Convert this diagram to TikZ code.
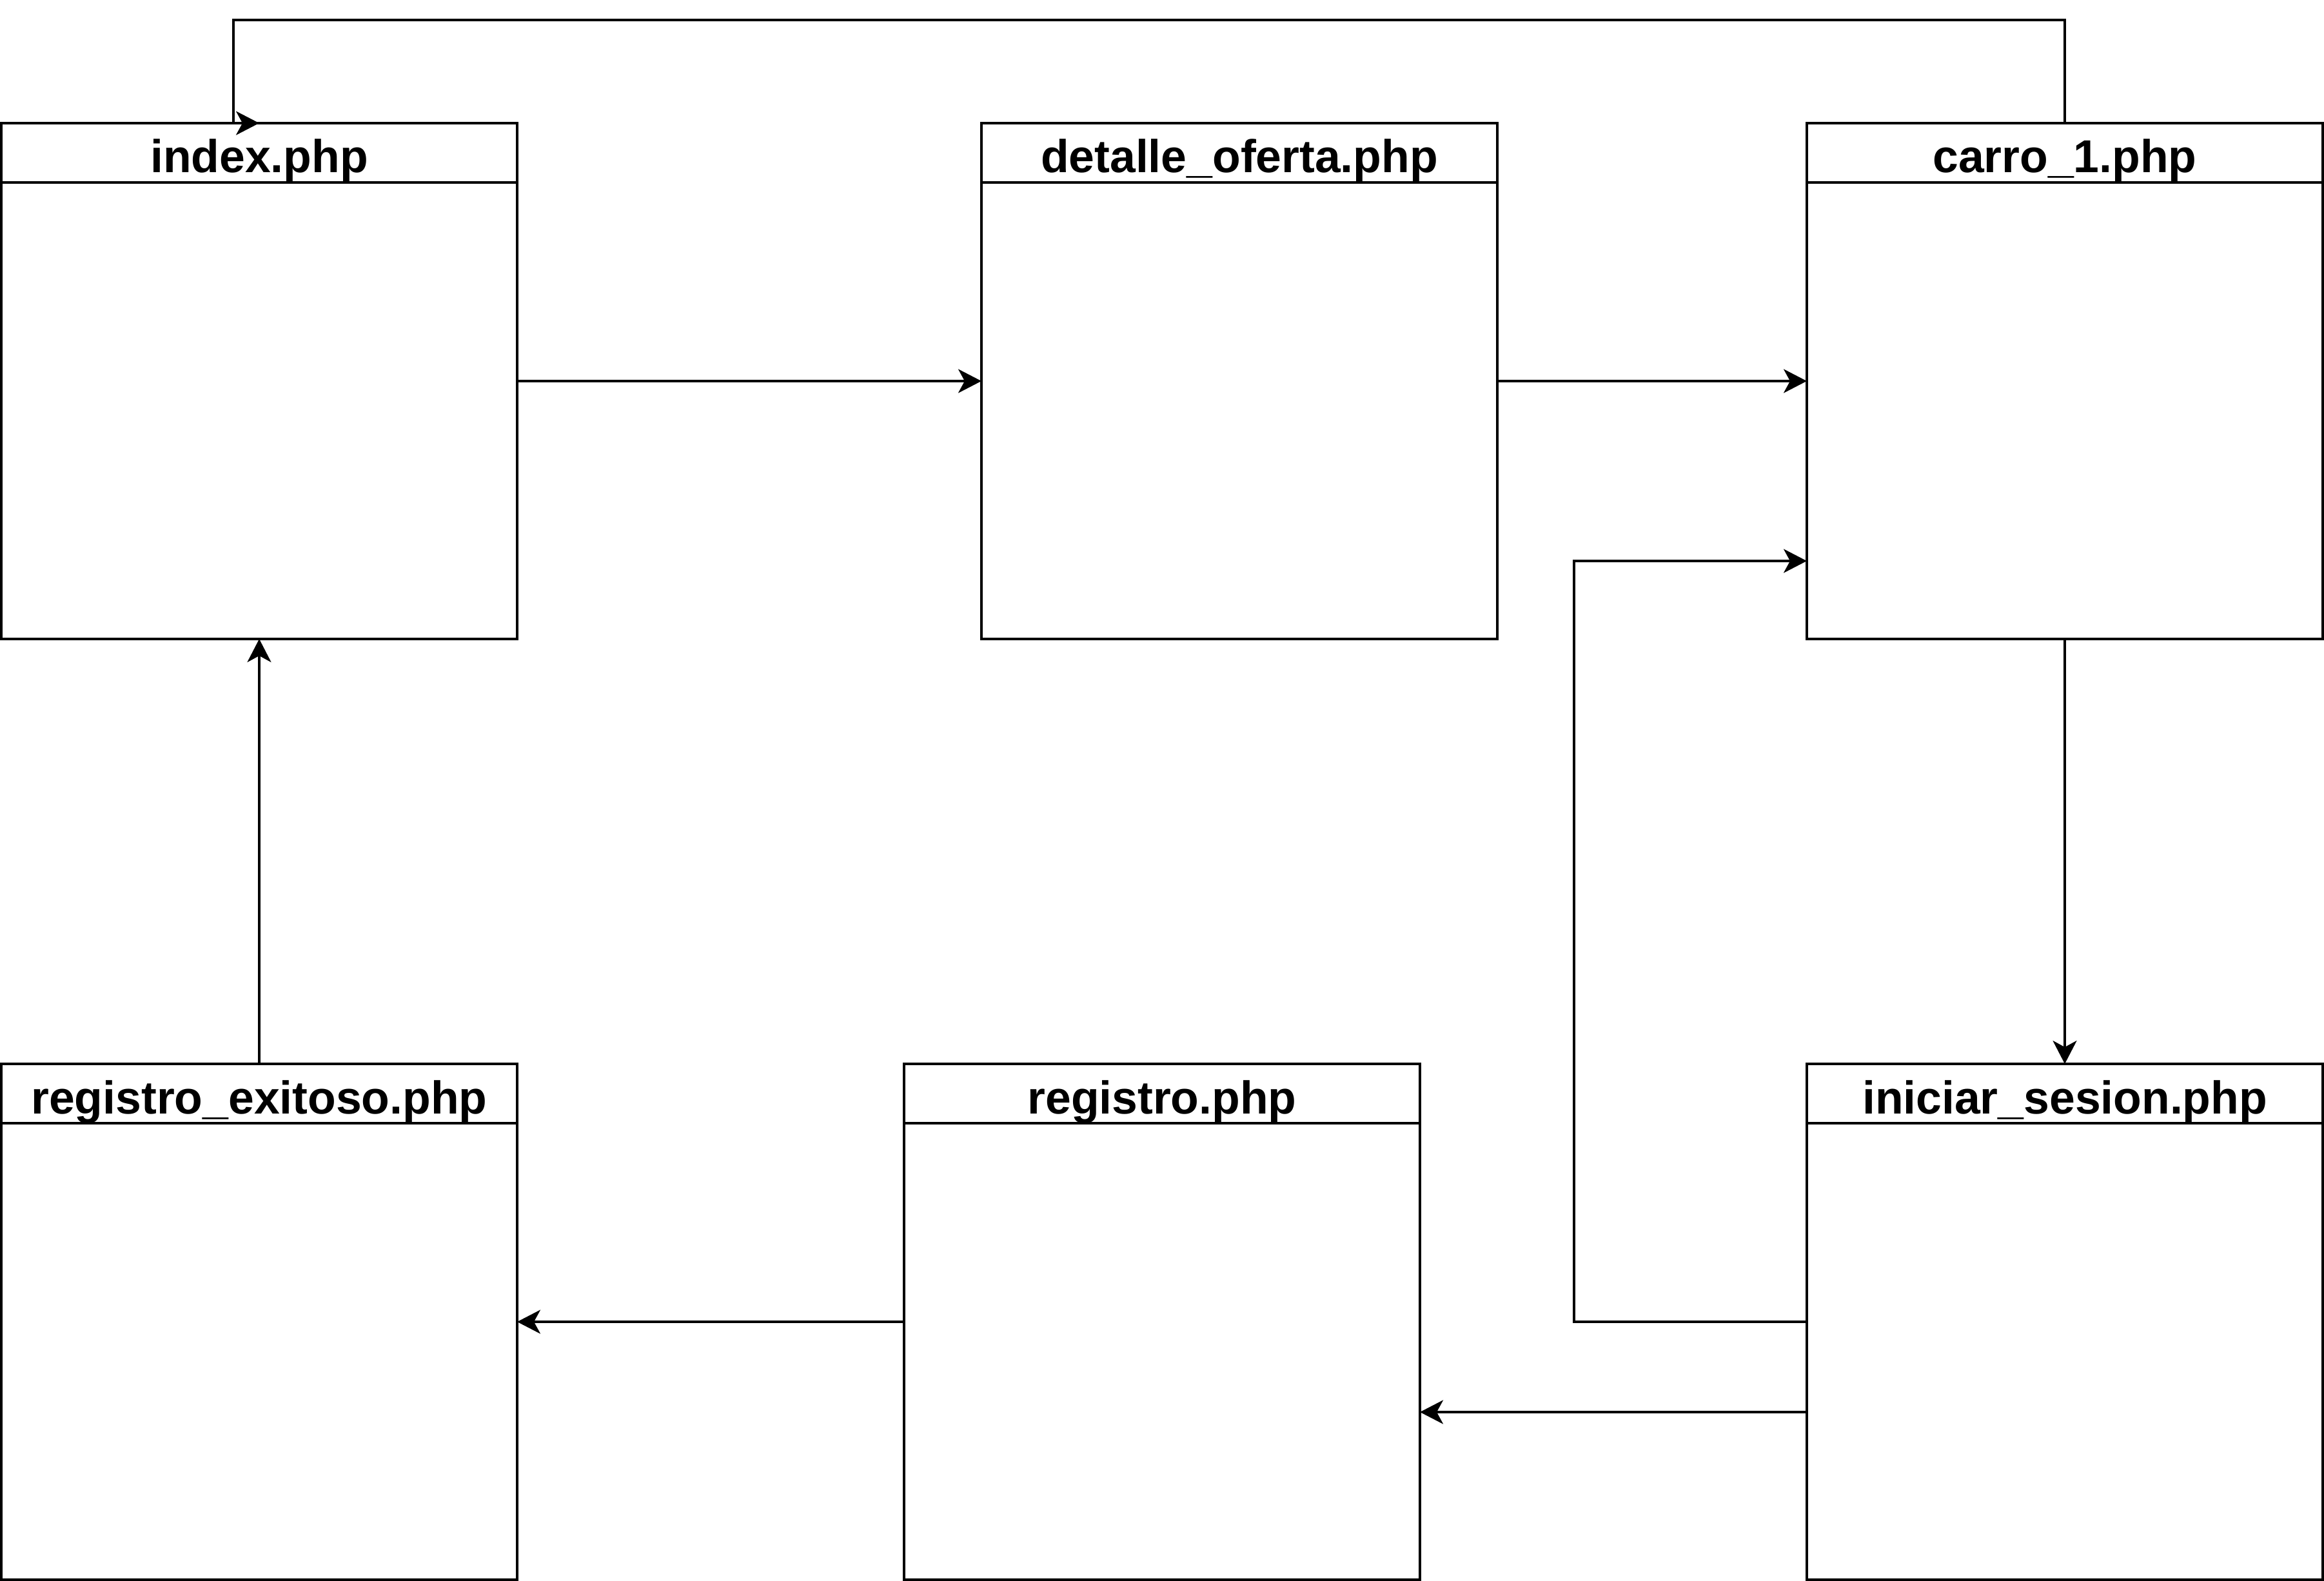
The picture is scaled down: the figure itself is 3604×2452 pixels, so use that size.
\documentclass[tikz,border=0pt]{standalone}
\usepackage{fontspec}
\setmainfont{Liberation Sans}
\usetikzlibrary{arrows.meta,calc}

\tikzset{
  pagebox/.style={draw, line width=0.7pt, fill=white, rectangle,
    minimum width=160pt, minimum height=160pt, inner sep=0pt, outer sep=0pt},
  pagetitle/.style={anchor=base, inner sep=0pt,
    font=\fontsize{14.3pt}{17pt}\selectfont\bfseries},
  headline/.style={line width=0.7pt},
  link/.style={line width=0.7pt,
    -{Stealth[length=7.2pt, width=7.4pt, inset=2pt]}},
}

\begin{document}
\begin{tikzpicture}[x=0.2pt, y=-0.2pt]
  \useasboundingbox (0,0) rectangle (3604,2452);

  % page boxes (centres, in pixels)
  \node[pagebox] (index)   at (402,591)  {};
  \node[pagebox] (detalle) at (1922,591) {};
  \node[pagebox] (carro)   at (3202,591) {};
  \node[pagebox] (exitoso) at (402,2050) {};
  \node[pagebox] (registro) at (1802,2050) {};
  \node[pagebox] (iniciar) at (3202,2050) {};

  % header separators and titles
  \foreach \b/\t in {index/index.php, detalle/detalle\_oferta.php,
                     carro/carro\_1.php, exitoso/registro\_exitoso.php,
                     registro/registro.php, iniciar/iniciar\_sesion.php} {
    \draw[headline] ($(\b.north west)+(0,92)$) -- ($(\b.north east)+(0,92)$);
    \node[pagetitle] (\b-title) at ($(\b.north)+(0,77)$) {\t};
  }

  % connectors
  \coordinate (loopTop) at (362,31);
  \draw[link] (carro.north) |- (loopTop) |- (index.north);
  \draw[link] (index.east) -- (detalle.west);
  \draw[link] (detalle.east) -- (carro.west);
  \draw[link] (carro.south) -- (iniciar.north);
  \coordinate (backTurn) at (2441,2050);
  \draw[link] (iniciar.west) -- (backTurn) |- ($(carro.west)+(0,279)$);
  \draw[link] ($(iniciar.west)+(0,140)$) -- ($(registro.east)+(0,140)$);
  \draw[link] (registro.west) -- (exitoso.east);
  \draw[link] (exitoso.north) -- (index.south);
\end{tikzpicture}
\end{document}
